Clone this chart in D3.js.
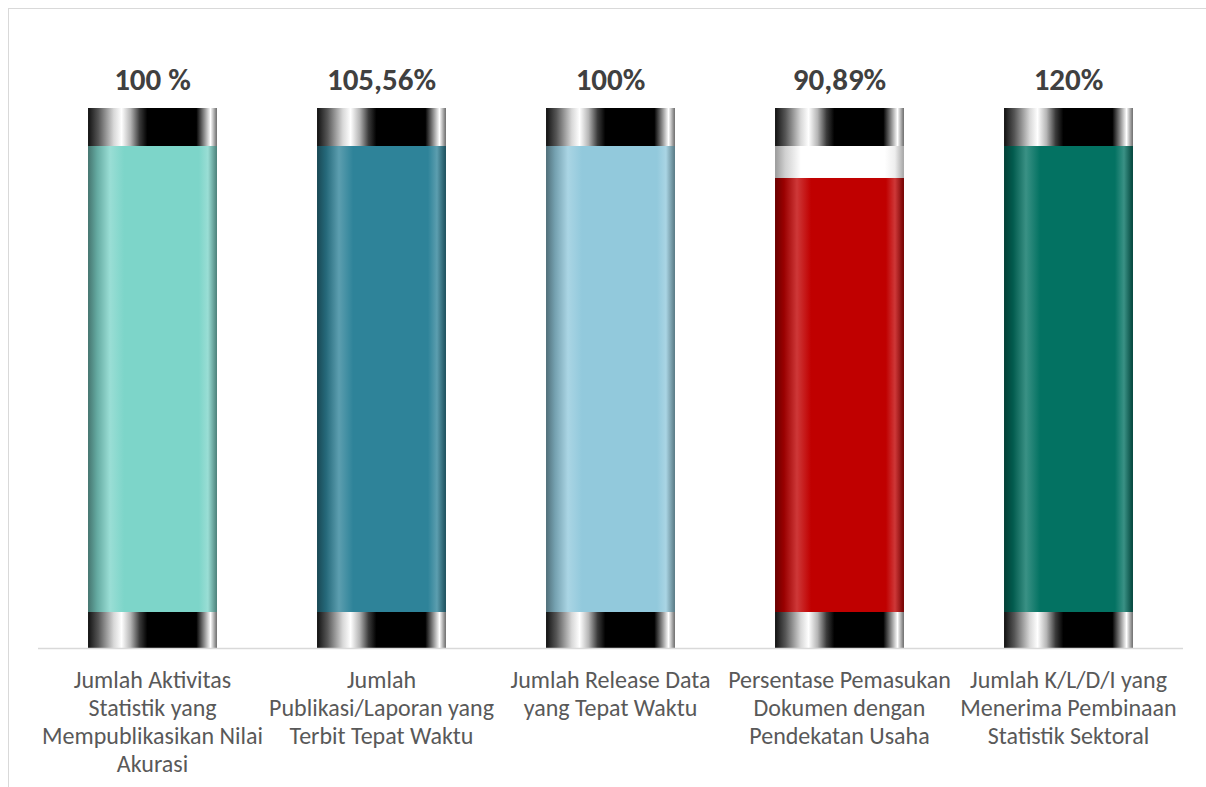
<!DOCTYPE html>
<html>
<head>
<meta charset="utf-8">
<script src="https://cdn.jsdelivr.net/npm/d3@7"></script>
<style>
  html, body { margin: 0; padding: 0; background: #fff; }
  svg { display: block; }
</style>
</head>
<body>
<svg id="chart" width="1206" height="787"></svg>
<script>
// ---- data ----
const categories = [
  ["Jumlah Aktivitas", "Statistik yang", "Mempublikasikan Nilai", "Akurasi"],
  ["Jumlah", "Publikasi/Laporan yang", "Terbit Tepat Waktu"],
  ["Jumlah Release Data", "yang Tepat Waktu"],
  ["Persentase Pemasukan", "Dokumen dengan", "Pendekatan Usaha"],
  ["Jumlah K/L/D/I yang", "Menerima Pembinaan", "Statistik Sektoral"]
];
const values = [100, 105.56, 100, 90.89, 120];
const valueLabels = ["100 %", "105,56%", "100%", "90,89%", "120%"];
const colors = ["#7dd5c9", "#2e8399", "#92c9dc", "#c00000", "#037262"];
const axisMin = -32.7;   // axis minimum of the gauge
const axisMax = 100;

// ---- layout ----
const svg = d3.select("#chart");
const fontFamily = "Carlito, Calibri, Lato, 'Open Sans', sans-serif";

// outer frame
svg.append("rect")
  .attr("x", 8.5).attr("y", 8.5)
  .attr("width", 1400).attr("height", 1000)
  .attr("fill", "none").attr("stroke", "#d9d9d9").attr("stroke-width", 1);

const plotLeft = 38, plotRight = 1183;
const fillTop = 146, fillBottom = 612;
const capTopY = 108, capBottomY = 648;

const x = d3.scaleBand()
  .domain(d3.range(values.length))
  .range([plotLeft, plotRight])
  .paddingInner(0.437).paddingOuter(0.2185);

const y = d3.scaleLinear().domain([axisMin, axisMax]).range([fillBottom, fillTop]);

const defs = svg.append("defs");

// cap (metallic black) gradient
const capGrad = defs.append("linearGradient").attr("id", "capGrad")
  .attr("x1", "0%").attr("x2", "100%").attr("y1", "0%").attr("y2", "0%");
[[0, "#111"], [0.08, "#555"], [0.2, "#d8d8d8"], [0.26, "#ffffff"], [0.33, "#b5b5b5"],
 [0.4, "#3a3a3a"], [0.46, "#000"], [0.84, "#000"], [0.9, "#8a8a8a"], [0.95, "#ffffff"], [1, "#6a6a6a"]]
  .forEach(([o, c]) => capGrad.append("stop").attr("offset", o).attr("stop-color", c));

// empty part gradient
const emptyGrad = defs.append("linearGradient").attr("id", "emptyGrad")
  .attr("x1", "0%").attr("x2", "100%");
[[0, "#9a9a9a"], [0.08, "#d0d0d0"], [0.2, "#ffffff"], [0.85, "#ffffff"], [0.93, "#eeeeee"], [1, "#a5a5a5"]]
  .forEach(([o, c]) => emptyGrad.append("stop").attr("offset", o).attr("stop-color", c));

// fill gradients per color
colors.forEach((c, i) => {
  const g = defs.append("linearGradient").attr("id", "fillGrad" + i)
    .attr("x1", "0%").attr("x2", "100%");
  const mix = (t) => d3.interpolateRgb(c, "#ffffff")(t);
  const dark = (t) => d3.interpolateRgb(c, "#000000")(t);
  [[0, dark(0.45)], [0.07, dark(0.2)], [0.17, mix(0.22)], [0.28, c], [0.86, c],
   [0.93, mix(0.22)], [1, dark(0.4)]]
    .forEach(([o, col]) => g.append("stop").attr("offset", o).attr("stop-color", col));
});

const bars = svg.append("g").selectAll("g.bar")
  .data(values)
  .join("g").attr("class", "bar");

// empty background (only visible where fill < max)
bars.append("rect")
  .attr("x", (d, i) => x(i)).attr("width", x.bandwidth())
  .attr("y", y(axisMax)).attr("height", y(axisMin) - y(axisMax))
  .attr("fill", "url(#emptyGrad)");

// fill
bars.append("rect")
  .attr("x", (d, i) => x(i)).attr("width", x.bandwidth())
  .attr("y", d => y(Math.min(d, axisMax)))
  .attr("height", d => y(axisMin) - y(Math.min(d, axisMax)))
  .attr("fill", (d, i) => `url(#fillGrad${i})`);

// top cap
bars.append("rect")
  .attr("x", (d, i) => x(i)).attr("width", x.bandwidth())
  .attr("y", capTopY).attr("height", y(axisMax) - capTopY)
  .attr("fill", "url(#capGrad)");

// bottom cap
bars.append("rect")
  .attr("x", (d, i) => x(i)).attr("width", x.bandwidth())
  .attr("y", y(axisMin)).attr("height", capBottomY - y(axisMin))
  .attr("fill", "url(#capGrad)");

// axis line
svg.append("line")
  .attr("x1", plotLeft).attr("x2", plotRight)
  .attr("y1", capBottomY + 0.5).attr("y2", capBottomY + 0.5)
  .attr("stroke", "#d9d9d9").attr("stroke-width", 1.5);

// value labels
svg.append("g").selectAll("text")
  .data(valueLabels)
  .join("text")
  .attr("x", (d, i) => x(i) + x.bandwidth() / 2)
  .attr("y", 90)
  .attr("text-anchor", "middle")
  .attr("font-family", fontFamily)
  .attr("font-weight", "bold")
  .attr("font-size", 31)
  .attr("fill", "#404040")
  .text(d => d);

// category labels
const catG = svg.append("g").selectAll("text")
  .data(categories)
  .join("text")
  .attr("text-anchor", "middle")
  .attr("font-family", fontFamily)
  .attr("font-size", 24)
  .attr("fill", "#595959");
catG.selectAll("tspan")
  .data((d, i) => d.map(line => ({ line, i })))
  .join("tspan")
  .attr("x", d => x(d.i) + x.bandwidth() / 2)
  .attr("y", (d, j) => 688 + j * 28)
  .text(d => d.line);
</script>
</body>
</html>
